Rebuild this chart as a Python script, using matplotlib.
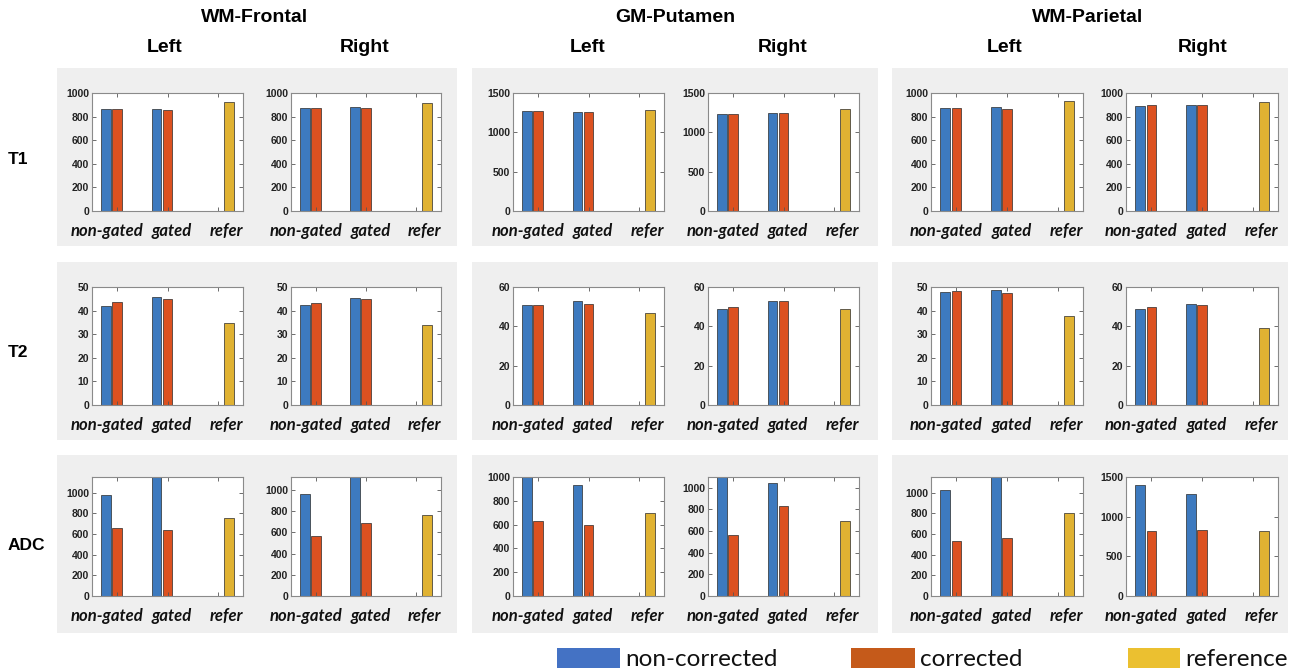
import matplotlib
matplotlib.use("Agg")
import matplotlib.pyplot as plt
from matplotlib.patches import Rectangle
import numpy as np

# Regions, hemispheres and parameter maps
regions = ['WM-Frontal', 'GM-Putamen', 'WM-Parietal']
sides = ['Left', 'Right']
metrics = ['T1', 'T2', 'ADC']
groups = ['non-gated', 'gated', 'refer']
series = ['non-corrected', 'corrected', 'reference']

# Per panel (WF-L, WF-R, GM-L, GM-R, WP-L, WP-R): [non-gated, gated]
t1_noncorr = [[862, 865], [870, 880], [1268, 1260], [1235, 1248], [875, 880], [892, 900]]
t1_corr = [[868, 857], [872, 872], [1268, 1254], [1238, 1248], [875, 868], [895, 895]]
t1_ref = [922, 915, 1290, 1292, 935, 925]

t2_noncorr = [[42.1, 45.8], [42.4, 45.5], [50.6, 52.9], [48.6, 52.9], [47.9, 48.9], [49.0, 51.4]]
t2_corr = [[43.8, 44.9], [43.4, 44.9], [50.6, 51.6], [49.6, 52.9], [48.3, 47.6], [49.9, 50.6]]
t2_ref = [34.8, 34.1, 46.9, 48.6, 37.8, 38.9]

adc_noncorr = [[977, 1150], [959, 1120], [1000, 935], [1100, 1046], [1026, 1150], [1403, 1286]]
adc_corr = [[656, 637], [564, 690], [628, 594], [567, 836], [529, 561], [815, 832]]
adc_ref = [752, 759, 696, 697, 806, 815]

# Axis ranges and tick steps for each panel
t1_ylim = [1000, 1000, 1500, 1500, 1000, 1000]
t1_step = [200, 200, 500, 500, 200, 200]
t2_ylim = [50, 50, 60, 60, 50, 60]
t2_step = [10, 10, 20, 20, 10, 20]
adc_ylim = [1150, 1120, 1000, 1100, 1150, 1500]
adc_step = [200, 200, 200, 200, 200, 500]

noncorr_all = [t1_noncorr, t2_noncorr, adc_noncorr]
corr_all = [t1_corr, t2_corr, adc_corr]
ref_all = [t1_ref, t2_ref, adc_ref]
ylim_all = [t1_ylim, t2_ylim, adc_ylim]
step_all = [t1_step, t2_step, adc_step]

bar_colors = ['#3d7abf', '#dc5120', '#e0b232']
legend_colors = ['#4472c4', '#c55a1a', '#ebc030']

W, H = 1290, 668
fig = plt.figure(figsize=(W / 100, H / 100), dpi=100)
fig.patch.set_facecolor('white')


def fx(x):
    return x / W


def fy(y):
    return 1 - y / H


# pixel layout
box_cols = [(57, 457), (472, 878), (892, 1288)]
box_rows = [(68, 246), (262, 440), (455, 633)]
ax_cols = [(92, 243), (291, 441), (513, 664), (708, 859), (931, 1083), (1126, 1278)]
ax_rows = [(93, 211), (287, 405), (477, 596)]

# light gray backgrounds behind each region/metric block
for (x0, x1) in box_cols:
    for (y0, y1) in box_rows:
        fig.patches.append(Rectangle((fx(x0), fy(y1)), (x1 - x0) / W, (y1 - y0) / H,
                                     transform=fig.transFigure, facecolor='#efefef',
                                     edgecolor='none', zorder=-5))

x = np.arange(1, 4)
off, bw = 0.22, 0.19
label_x = [0.80, 2.09, 3.17]

for r in range(3):
    y0, y1 = ax_rows[r]
    for p in range(6):
        x0, x1 = ax_cols[p]
        ax = fig.add_axes([fx(x0), fy(y1), (x1 - x0) / W, (y1 - y0) / H])
        nc = noncorr_all[r][p]
        co = corr_all[r][p]
        rf = ref_all[r][p]
        ax.bar(x[:2] - off, nc, bw, color=bar_colors[0], edgecolor='#2a2a2a', linewidth=0.5)
        ax.bar(x[:2], co, bw, color=bar_colors[1], edgecolor='#2a2a2a', linewidth=0.5)
        ax.bar(x[2] + off, rf, bw, color=bar_colors[2], edgecolor='#2a2a2a', linewidth=0.5)
        ax.set_xlim(0.5, 3.5)
        ax.set_ylim(0, ylim_all[r][p])
        step = step_all[r][p]
        ax.set_yticks(np.arange(0, ylim_all[r][p] + 1, step))
        ax.set_xticks(x)
        ax.set_xticklabels([])
        ax.tick_params(direction='in', length=3, width=0.6, top=True, right=True,
                       color='#555555', labelsize=7.5, labelcolor='#222222', pad=2)
        for lab in ax.get_yticklabels():
            lab.set_fontweight('bold')
            lab.set_family('Liberation Sans')
        for s in ax.spines.values():
            s.set_color('#8a8a8a')
            s.set_linewidth(0.8)
        for g, lx in zip(groups, label_x):
            ax.text(lx, -20 / (y1 - y0), g, transform=ax.get_xaxis_transform(),
                    ha='center', va='center', fontsize=12, fontweight='bold',
                    style='italic', family='Lato', color='#111111')

# column headers
header_x = [255, 675, 1088]
side_x = [(165, 365), (588, 783), (1005, 1203)]
for name, hx, (lx, rx) in zip(regions, header_x, side_x):
    fig.text(fx(hx), fy(18), name, ha='center', va='center', fontsize=14,
             fontweight='bold', family='Liberation Sans')
    fig.text(fx(lx), fy(47), sides[0], ha='center', va='center', fontsize=14,
             fontweight='bold', family='Liberation Sans')
    fig.text(fx(rx), fy(47), sides[1], ha='center', va='center', fontsize=14,
             fontweight='bold', family='Liberation Sans')

# row labels
for m, yy in zip(metrics, [160, 352, 545]):
    fig.text(fx(8), fy(yy), m, ha='left', va='center', fontsize=12.5,
             fontweight='bold', family='Liberation Sans')

# legend along the bottom edge
leg_boxes = [(557, 620), (851, 915), (1128, 1180)]
for name, col, (a, b) in zip(series, legend_colors, leg_boxes):
    fig.patches.append(Rectangle((fx(a), fy(668)), (b - a) / W, 20 / H,
                                 transform=fig.transFigure, facecolor=col,
                                 edgecolor='none'))
    fig.text(fx(b + 5), fy(666), name, ha='left', va='baseline', fontsize=17.5,
             family='Lato', color='#111111')

fig.savefig('out.png', dpi=100)
